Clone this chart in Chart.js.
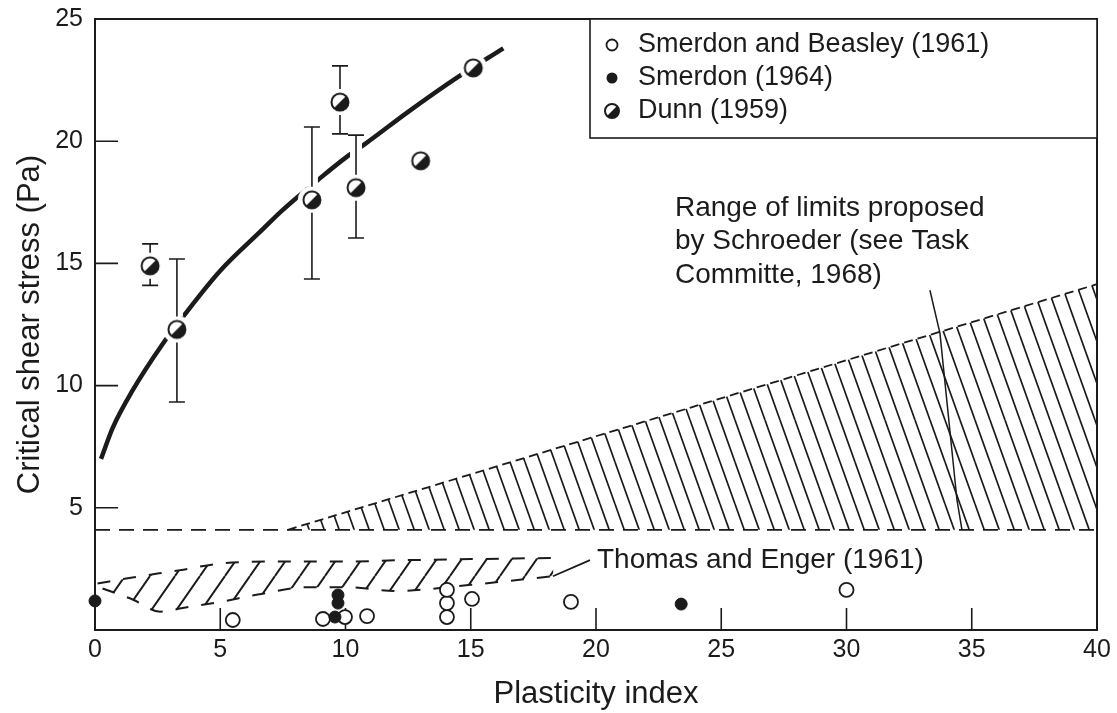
<!DOCTYPE html>
<html lang="en">
<head>
    <meta charset="UTF-8">
    <title>Critical shear stress vs plasticity index</title>
    <script src="https://cdn.jsdelivr.net/npm/chart.js"></script>
    <style>
        body { margin: 0; background: #fff; }
        .chart-box { width: 1117px; height: 713px; position: relative; }
    </style>
</head>
<body>
    <div class="chart-box"><canvas id="shearChart"></canvas></div>

    <script>
        // values
        const beasleyX = [5.5, 9.1, 9.98, 10.86, 14.05, 14.05, 14.05, 15.05, 19.0, 30.0];
        const beasleyY = [0.41, 0.45, 0.53, 0.57, 0.53, 1.1, 1.64, 1.27, 1.15, 1.64];

        const smerdonX = [0, 9.58, 9.7, 9.7, 23.4];
        const smerdonY = [1.19, 0.53, 1.1, 1.43, 1.06];

        const dunnX = [2.2, 3.27, 8.66, 9.78, 10.42, 13.0, 15.1];
        const dunnY = [14.9, 12.3, 17.6, 21.6, 18.1, 19.2, 23.0];
        const dunnLow = [14.1, 9.33, 14.36, 20.3, 16.04, null, null];
        const dunnHigh = [15.8, 15.18, 20.58, 23.08, 20.25, null, null];

        const curveX = [0.24, 0.72, 1.5, 2.7, 3.5, 5.0, 6.7, 7.4, 9.0, 10.1, 10.8, 12.5, 14.45, 16.3];
        const curveY = [7.0, 8.3, 9.8, 11.7, 12.8, 14.7, 16.4, 17.1, 18.5, 19.4, 19.9, 21.2, 22.6, 23.8];

        const thomasTopX = [0.1, 1.5, 3.4, 5.0, 7.0, 10.0, 12.0, 15.0, 18.3];
        const thomasTopY = [1.9, 2.15, 2.45, 2.72, 2.8, 2.8, 2.85, 2.9, 2.95];
        const thomasBotX = [0.3, 1.5, 2.6, 3.5, 5.0, 6.5, 8.5, 10.0, 12.0, 15.0, 18.3];
        const thomasBotY = [1.7, 1.25, 0.75, 0.9, 1.15, 1.45, 1.75, 1.75, 1.6, 1.85, 2.2];

        const schroederTopX = [7.7, 40];
        const schroederTopY = [4.1, 14.15];
        const schroederBaseX = [0, 40];
        const schroederBaseY = [4.1, 4.1];

        const schroederLeaderX = [33.33, 33.73, 34.41, 34.61];
        const schroederLeaderY = [13.9, 12.15, 5.32, 4.1];
        const thomasLeaderX = [19.76, 18.28];
        const thomasLeaderY = [2.86, 2.2];

        const schroederNote = ['Range of limits proposed', 'by Schroeder (see Task', 'Committe, 1968)'];
        const schroederNoteAt = [23.15, 17.27];
        const thomasNote = 'Thomas and Enger (1961)';
        const thomasNoteAt = [20.04, 2.86];

        const seriesNames = ['Smerdon and Beasley (1961)', 'Smerdon (1964)', 'Dunn (1959)'];

        const ink = '#1b1b1b';
        const fontFamily = '"Liberation Sans", Arial, sans-serif';

        function pts(xs, ys) {
            return xs.map((x, i) => ({ x: x, y: ys[i] }));
        }

        // diagonal hatch tile; '/' or '\'
        function makeHatch(w, h, dir, lw) {
            const c = document.createElement('canvas');
            c.width = w; c.height = h;
            const g = c.getContext('2d');
            g.strokeStyle = ink;
            g.lineWidth = lw;
            g.beginPath();
            for (const off of [-w, 0, w]) {
                if (dir === '/') { g.moveTo(off, h); g.lineTo(off + w, 0); }
                else { g.moveTo(off, 0); g.lineTo(off + w, h); }
            }
            g.stroke();
            return g.createPattern(c, 'repeat');
        }

        // half filled circle used for Dunn (1959)
        function makeDunnMarker(r, halo) {
            const size = Math.ceil((halo || r + 2) * 2) + 2;
            const c = document.createElement('canvas');
            c.width = size; c.height = size;
            const g = c.getContext('2d');
            const m = size / 2;
            if (halo) {
                g.fillStyle = '#fff';
                g.beginPath(); g.arc(m, m, halo, 0, Math.PI * 2); g.fill();
            }
            g.save();
            g.beginPath(); g.arc(m, m, r, 0, Math.PI * 2); g.clip();
            g.fillStyle = '#fff';
            g.fillRect(m - r, m - r, 2 * r, 2 * r);
            g.fillStyle = ink;
            g.beginPath();
            g.moveTo(m + r, m - r); g.lineTo(m + r, m + r); g.lineTo(m - r, m + r);
            g.closePath(); g.fill();
            g.restore();
            g.strokeStyle = ink;
            g.lineWidth = 2;
            g.beginPath(); g.arc(m, m, r, 0, Math.PI * 2); g.stroke();
            return c;
        }

        const thomasHatch = makeHatch(25, 36, '/', 2);
        const schroederHatch = makeHatch(15, 42, '\\', 1.7);
        const dunnMarker = makeDunnMarker(8.5, 14);
        const dunnLegendMarker = makeDunnMarker(7, 0);

        const extras = {
            id: 'extras',
            beforeDatasetsDraw(chart) {
                const { ctx, chartArea: a, scales: { x, y } } = chart;
                ctx.save();
                ctx.strokeStyle = ink;
                ctx.lineWidth = 2;
                ctx.strokeRect(a.left, a.top, a.right - a.left, a.bottom - a.top);
                // inward tick marks
                ctx.lineWidth = 1.6;
                ctx.beginPath();
                x.ticks.forEach(t => {
                    if (t.value > x.min && t.value < x.max) {
                        const px = x.getPixelForValue(t.value);
                        ctx.moveTo(px, a.bottom); ctx.lineTo(px, a.bottom - 22);
                    }
                });
                y.ticks.forEach(t => {
                    if (t.value > y.min && t.value < y.max) {
                        const py = y.getPixelForValue(t.value);
                        ctx.moveTo(a.left, py); ctx.lineTo(a.left + 23, py);
                    }
                });
                ctx.stroke();
                ctx.restore();
            },
            afterDatasetsDraw(chart) {
                const { ctx, chartArea: a, scales: { x, y } } = chart;
                ctx.save();

                // error bars on Dunn points, with a white gap where they cross the curve
                dunnX.forEach((v, i) => {
                    if (dunnLow[i] == null) return;
                    const px = x.getPixelForValue(v);
                    const pc = y.getPixelForValue(dunnY[i]);
                    const pHi = y.getPixelForValue(dunnHigh[i]);
                    const pLo = y.getPixelForValue(dunnLow[i]);
                    const seg = () => {
                        ctx.beginPath();
                        ctx.moveTo(px, pHi); ctx.lineTo(px, pc - 13);
                        ctx.moveTo(px, pc + 13); ctx.lineTo(px, pLo);
                        ctx.stroke();
                    };
                    ctx.strokeStyle = '#fff'; ctx.lineWidth = 12; seg();
                    ctx.strokeStyle = ink; ctx.lineWidth = 1.6; seg();
                    ctx.beginPath();
                    ctx.moveTo(px - 8, pHi); ctx.lineTo(px + 8, pHi);
                    ctx.moveTo(px - 8, pLo); ctx.lineTo(px + 8, pLo);
                    ctx.stroke();
                });

                // notes
                ctx.fillStyle = ink;
                ctx.font = '28px ' + fontFamily;
                ctx.textAlign = 'left';
                ctx.textBaseline = 'middle';
                const nx = x.getPixelForValue(schroederNoteAt[0]);
                const ny = y.getPixelForValue(schroederNoteAt[1]);
                schroederNote.forEach((line, i) => ctx.fillText(line, nx, ny + i * 33.5));
                ctx.fillText(thomasNote, x.getPixelForValue(thomasNoteAt[0]), y.getPixelForValue(thomasNoteAt[1]));

                // legend box in the upper right corner
                const boxL = a.right - 507, boxT = a.top, boxH = 119;
                ctx.fillStyle = '#fff';
                ctx.fillRect(boxL, boxT, a.right - boxL, boxH);
                ctx.strokeStyle = ink;
                ctx.lineWidth = 1.6;
                ctx.strokeRect(boxL, boxT, a.right - boxL, boxH);
                const rows = [boxT + 26, boxT + 59, boxT + 92];
                const mx = boxL + 22;
                ctx.lineWidth = 1.8;
                ctx.beginPath(); ctx.arc(mx, rows[0], 5.5, 0, Math.PI * 2); ctx.stroke();
                ctx.fillStyle = ink;
                ctx.beginPath(); ctx.arc(mx, rows[1], 5.5, 0, Math.PI * 2); ctx.fill();
                ctx.drawImage(dunnLegendMarker, mx - dunnLegendMarker.width / 2, rows[2] - dunnLegendMarker.height / 2);
                ctx.font = '27px ' + fontFamily;
                seriesNames.forEach((name, i) => ctx.fillText(name, boxL + 48, rows[i]));

                ctx.restore();
            }
        };

        const lineBase = { showLine: true, pointRadius: 0, borderColor: ink, fill: false };

        new Chart(document.getElementById('shearChart'), {
            type: 'scatter',
            data: {
                datasets: [
                    Object.assign({}, lineBase, {
                        label: 'Thomas and Enger upper', data: pts(thomasTopX, thomasTopY),
                        fill: '+1', backgroundColor: thomasHatch, borderWidth: 2, borderDash: [13, 13],
                        cubicInterpolationMode: 'monotone', order: 6
                    }),
                    Object.assign({}, lineBase, {
                        label: 'Thomas and Enger lower', data: pts(thomasBotX, thomasBotY),
                        borderWidth: 2, borderDash: [13, 13], cubicInterpolationMode: 'monotone', order: 6
                    }),
                    Object.assign({}, lineBase, {
                        label: 'Schroeder upper', data: pts(schroederTopX, schroederTopY),
                        fill: '+1', backgroundColor: schroederHatch, borderWidth: 1.8, borderDash: [9, 5], order: 6
                    }),
                    Object.assign({}, lineBase, {
                        label: 'Schroeder lower', data: pts(schroederBaseX, schroederBaseY),
                        borderWidth: 1.8, borderDash: [15, 9], order: 6
                    }),
                    Object.assign({}, lineBase, {
                        label: 'Schroeder leader', data: pts(schroederLeaderX, schroederLeaderY),
                        borderWidth: 1.5, order: 5
                    }),
                    Object.assign({}, lineBase, {
                        label: 'Thomas leader', data: pts(thomasLeaderX, thomasLeaderY),
                        borderWidth: 1.8, order: 5
                    }),
                    Object.assign({}, lineBase, {
                        label: 'Dunn trend', data: pts(curveX, curveY),
                        borderWidth: 4.5, cubicInterpolationMode: 'monotone', order: 4
                    }),
                    {
                        label: seriesNames[0], data: pts(beasleyX, beasleyY),
                        pointRadius: 7, pointBackgroundColor: '#fff', pointBorderColor: ink,
                        pointBorderWidth: 1.8, clip: false, order: 2
                    },
                    {
                        label: seriesNames[1], data: pts(smerdonX, smerdonY),
                        pointRadius: 6, pointBackgroundColor: ink, pointBorderColor: ink,
                        pointBorderWidth: 1, clip: false, order: 1
                    },
                    {
                        label: seriesNames[2], data: pts(dunnX, dunnY),
                        pointStyle: dunnMarker, clip: false, order: 0
                    }
                ]
            },
            options: {
                responsive: true,
                maintainAspectRatio: false,
                animation: false,
                layout: { padding: { top: 19, right: 20, left: 0, bottom: 0 } },
                plugins: {
                    legend: { display: false },
                    tooltip: { enabled: false }
                },
                scales: {
                    x: {
                        type: 'linear', min: 0, max: 40,
                        grid: { display: false, drawTicks: false },
                        border: { display: false },
                        ticks: { stepSize: 5, color: ink, padding: 5, font: { family: fontFamily, size: 25 } },
                        title: {
                            display: true, text: 'Plasticity index', color: ink,
                            font: { family: fontFamily, size: 31 }, padding: { top: 2, bottom: 0 }
                        },
                        afterFit(scale) {
                            scale.height = 83;
                            scale.paddingLeft = 0;
                            scale.paddingRight = 0;
                        }
                    },
                    y: {
                        type: 'linear', min: 0, max: 25,
                        grid: { display: false, drawTicks: false },
                        border: { display: false },
                        ticks: {
                            stepSize: 5, color: ink, padding: 12, font: { family: fontFamily, size: 25 },
                            callback: v => (v === 0 ? '' : v)
                        },
                        title: {
                            display: true, text: 'Critical shear stress (Pa)', color: ink,
                            font: { family: fontFamily, size: 31 }, padding: { top: 12, bottom: 0 }
                        },
                        afterFit(scale) {
                            scale.width = 95;
                            scale.paddingTop = 0;
                            scale.paddingBottom = 0;
                        }
                    }
                }
            },
            plugins: [extras]
        });
    </script>
</body>
</html>
